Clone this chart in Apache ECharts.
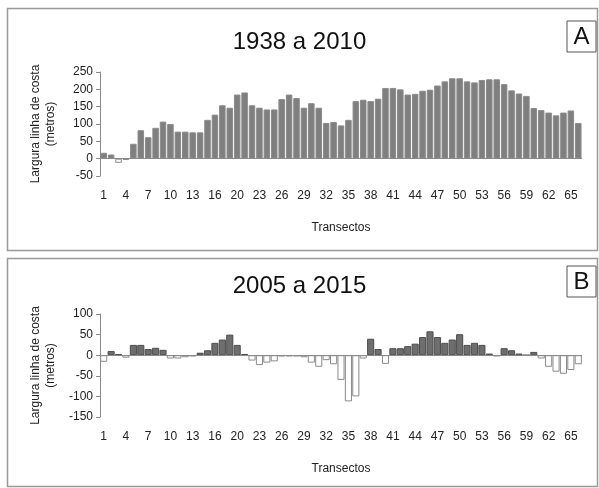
<!DOCTYPE html>
<html>
<head>
<meta charset="utf-8">
<script src="https://cdn.jsdelivr.net/npm/echarts@6/dist/echarts.min.js"></script>
<style>
  html, body { margin: 0; padding: 0; background: #fff; }
  #chart { width: 599px; height: 488px; }
</style>
</head>
<body>
<div id="chart"></div>
<script>
// transect numbers (19 is absent in the source figure)
const transectos = [];
for (let i = 1; i <= 66; i++) { if (i !== 19) transectos.push(String(i)); }

// A: 1938 a 2010 (metros)
const valoresA = [
  17, 12, -12, -4, 43, 82, 62, 89, 107, 100,
  78, 78, 76, 76, 112, 127, 154, 147, 185, 191,
  154, 147, 142, 142, 172, 185, 175, 147, 160, 147,
  103, 106, 96, 112, 166, 170, 166, 173, 204, 204,
  200, 185, 187, 196, 199, 211, 223, 232, 232, 223,
  220, 227, 229, 229, 215, 197, 188, 181, 146, 140,
  133, 125, 133, 139, 103
];

// B: 2005 a 2015 (metros)
const valoresB = [
  -16, 10, 3, -6, 25, 25, 15, 18, 13, -8,
  -8, -5, -3, 6, 12, 30, 38, 50, 25, 3,
  -13, -24, -18, -15, -3, -3, -3, -5, -18, -28,
  -12, -22, -60, -112, -100, -8, 40, 15, -21, 17,
  17, 22, 28, 44, 58, 44, 30, 38, 51, 25,
  30, 25, 4, -3, 17, 12, 4, 0, 8, -8,
  -28, -40, -45, -36, -22
];

const ticksA = { min: -50, max: 250, interval: 50 };
const ticksB = { min: -150, max: 100, interval: 50 };

const FONT = '"Liberation Sans", Arial, sans-serif';
const GRAY = '#8a8a8a';

function styledData(values, pos, posBorder) {
  return values.map(v => ({
    value: v,
    itemStyle: v < 0
      ? { color: '#ffffff', borderColor: GRAY, borderWidth: 1 }
      : { color: pos, borderColor: posBorder, borderWidth: 1 }
  }));
}

function xAxisFor(gridIndex) {
  return {
    type: 'category',
    gridIndex,
    data: transectos,
    axisLine: { show: false },
    axisTick: { show: false },
    axisLabel: { interval: 2, margin: 14, fontSize: 12, color: '#222', fontFamily: FONT },
    name: 'Transectos',
    nameLocation: 'middle',
    nameGap: 46,
    nameTextStyle: { fontSize: 12, color: '#222', fontFamily: FONT }
  };
}

function yAxisFor(gridIndex, t) {
  return {
    type: 'value',
    gridIndex,
    min: t.min, max: t.max, interval: t.interval,
    axisLine: { show: true, lineStyle: { color: GRAY } },
    axisTick: { show: true, length: 4, lineStyle: { color: GRAY } },
    splitLine: { show: false },
    axisLabel: { fontSize: 12, color: '#222', margin: 7, fontFamily: FONT },
    name: 'Largura linha de costa\n(metros)',
    nameLocation: 'middle',
    nameRotate: 90,
    nameGap: 42,
    nameTextStyle: { fontSize: 12, color: '#222', lineHeight: 15, fontFamily: FONT }
  };
}

function zeroLine() {
  return {
    silent: true, symbol: 'none', label: { show: false },
    lineStyle: { color: GRAY, width: 1, type: 'solid' },
    data: [{ yAxis: 0 }]
  };
}

function letterBox(y, letter) {
  return [
    { type: 'rect', shape: { x: 567, y: y, width: 29, height: 31 },
      style: { fill: '#fff', stroke: '#555', lineWidth: 1 } },
    { type: 'text', x: 581.5, y: y + 16,
      style: { text: letter, font: '24px ' + FONT, fill: '#111', align: 'center', verticalAlign: 'middle' } }
  ];
}

const chart = echarts.init(document.getElementById('chart'));
chart.setOption({
  animation: false,
  title: [
    { text: '1938 a 2010', left: 'center', top: 25, textStyle: { fontSize: 24, fontWeight: 'normal', color: '#111', fontFamily: FONT } },
    { text: '2005 a 2015', left: 'center', top: 269, textStyle: { fontSize: 24, fontWeight: 'normal', color: '#111', fontFamily: FONT } }
  ],
  grid: [
    { left: 100, right: 17, top: 72, height: 104 },
    { left: 100, right: 17, top: 314, height: 103 }
  ],
  xAxis: [xAxisFor(0), xAxisFor(1)],
  yAxis: [yAxisFor(0, ticksA), yAxisFor(1, ticksB)],
  series: [
    { type: 'bar', xAxisIndex: 0, yAxisIndex: 0, barCategoryGap: '12%',
      data: styledData(valoresA, '#7f7f7f', '#8c8c8c'), markLine: zeroLine() },
    { type: 'bar', xAxisIndex: 1, yAxisIndex: 1, barCategoryGap: '4%',
      data: styledData(valoresB, '#6e6e6e', '#4d4d4d'), markLine: zeroLine() }
  ],
  graphic: [
    { type: 'rect', shape: { x: 7.5, y: 8.5, width: 590, height: 242 },
      style: { fill: 'none', stroke: '#999', lineWidth: 1.5 } },
    { type: 'rect', shape: { x: 7.5, y: 258.5, width: 590, height: 228 },
      style: { fill: 'none', stroke: '#999', lineWidth: 1.5 } },
    ...letterBox(21, 'A'),
    ...letterBox(266, 'B')
  ]
});
</script>
</body>
</html>
